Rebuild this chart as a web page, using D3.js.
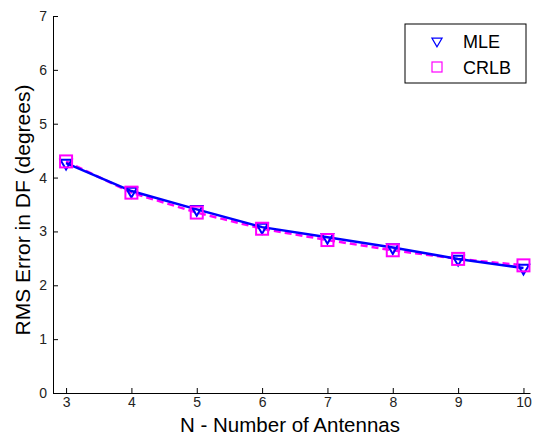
<!DOCTYPE html>
<html>
<head>
<meta charset="utf-8">
<script src="https://cdn.jsdelivr.net/npm/d3@7"></script>
<style>
  body { margin: 0; background: #fff; }
  text { font-family: Arial, "Liberation Sans", sans-serif; }
</style>
</head>
<body>
<svg id="chart" width="544" height="439"></svg>
<script>
// data
const antennas = [3, 4, 5, 6, 7, 8, 9, 10];
const mleValues = [4.27, 3.75, 3.41, 3.08, 2.89, 2.70, 2.49, 2.32];
const crlbValues = [4.30, 3.72, 3.35, 3.05, 2.84, 2.65, 2.49, 2.37];
const xTicks = [3, 4, 5, 6, 7, 8, 9, 10];
const yTicks = [0, 1, 2, 3, 4, 5, 6, 7];

const svg = d3.select("#chart");

// plot area
const MARGIN = { left: 53, top: 16, right: 14, bottom: 46 };
const width = 544, height = 439;

const x = d3.scaleLinear().domain([2.8, 10.1]).range([MARGIN.left, width - MARGIN.right]);
const y = d3.scaleLinear().domain([0, 7]).range([height - MARGIN.bottom, MARGIN.top]);

// axes (ticks pointing inward like matlab)
const xAxis = svg.append("g")
  .attr("transform", `translate(0,${y(0)})`)
  .call(d3.axisBottom(x).tickValues(xTicks).tickFormat(d3.format("d"))
    .tickSizeInner(-5).tickSizeOuter(0).tickPadding(4));
const yAxis = svg.append("g")
  .attr("transform", `translate(${x(2.8)},0)`)
  .call(d3.axisLeft(y).tickValues(yTicks).tickFormat(d3.format("d"))
    .tickSizeInner(-5).tickSizeOuter(0).tickPadding(6));

[xAxis, yAxis].forEach(g => {
  g.select(".domain").attr("stroke", "#000").attr("stroke-width", 1);
  g.selectAll(".tick line").attr("stroke", "#000");
  g.selectAll(".tick text").attr("fill", "#222").style("font-size", "14px");
});

// lines
const line = d3.line().x((d, i) => x(antennas[i])).y(d => y(d));

svg.append("path")
  .datum(crlbValues)
  .attr("fill", "none")
  .attr("stroke", "#ff00ff")
  .attr("stroke-width", 2.5)
  .attr("stroke-dasharray", "7,4")
  .attr("d", line);

svg.append("path")
  .datum(mleValues)
  .attr("fill", "none")
  .attr("stroke", "#0000ff")
  .attr("stroke-width", 2.5)
  .attr("d", line);

// markers
const tri = d3.symbol().type(d3.symbolTriangle).size(55);
svg.selectAll(".mle-pt")
  .data(mleValues)
  .join("path")
  .attr("class", "mle-pt")
  .attr("d", tri)
  .attr("transform", (d, i) => `translate(${x(antennas[i])},${y(d)}) rotate(180)`)
  .attr("fill", "none")
  .attr("stroke", "#0000ff")
  .attr("stroke-width", 2);

svg.selectAll(".crlb-pt")
  .data(crlbValues)
  .join("rect")
  .attr("class", "crlb-pt")
  .attr("x", (d, i) => x(antennas[i]) - 6)
  .attr("y", d => y(d) - 6)
  .attr("width", 12)
  .attr("height", 12)
  .attr("fill", "none")
  .attr("stroke", "#ff00ff")
  .attr("stroke-width", 2);

// axis labels
svg.append("text")
  .attr("x", 290)
  .attr("y", 432)
  .attr("text-anchor", "middle")
  .style("font-size", "20.5px")
  .text("N - Number of Antennas");

svg.append("text")
  .attr("transform", `translate(30,210) rotate(-90)`)
  .attr("text-anchor", "middle")
  .style("font-size", "21px")
  .text("RMS Error in DF (degrees)");

// legend
const legend = svg.append("g").attr("transform", "translate(405,24)");
legend.append("rect")
  .attr("width", 121).attr("height", 59)
  .attr("fill", "#fff").attr("stroke", "#000").attr("stroke-width", 1);

legend.append("path")
  .attr("d", d3.symbol().type(d3.symbolTriangle).size(45))
  .attr("transform", "translate(32,17) rotate(180)")
  .attr("fill", "none").attr("stroke", "#0000ff").attr("stroke-width", 1.2);
legend.append("rect")
  .attr("x", 27).attr("y", 38).attr("width", 10).attr("height", 10)
  .attr("fill", "none").attr("stroke", "#ff00ff").attr("stroke-width", 1.2);

legend.append("text").attr("x", 58).attr("y", 24).style("font-size", "18px").text("MLE");
legend.append("text").attr("x", 58).attr("y", 50).style("font-size", "18px").text("CRLB");
</script>
</body>
</html>
